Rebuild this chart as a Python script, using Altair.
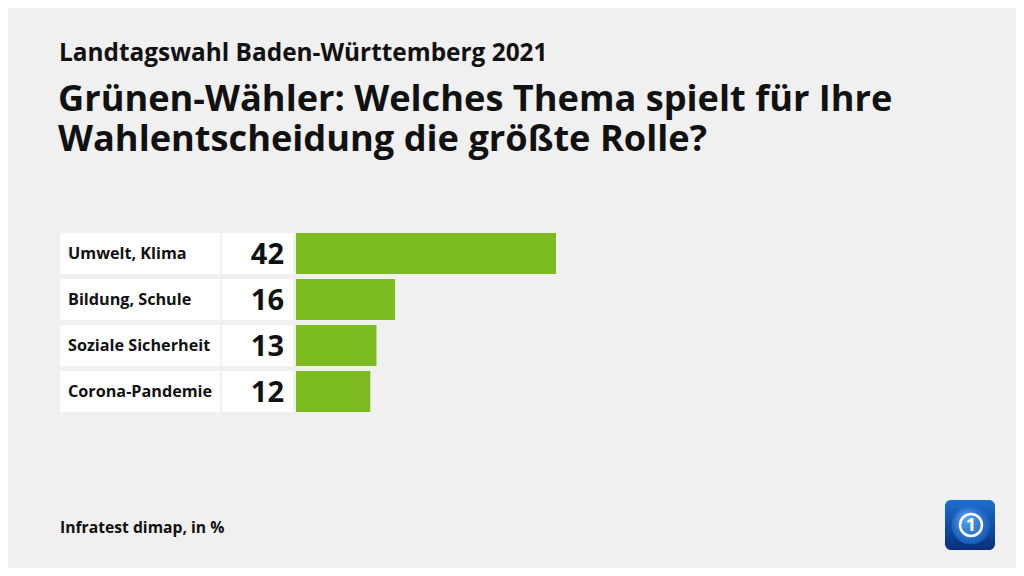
import altair as alt
import pandas as pd

categories = ["Umwelt, Klima", "Bildung, Schule", "Soziale Sicherheit", "Corona-Pandemie"]
values = [42, 16, 13, 12]

kicker = "Landtagswahl Baden-Württemberg 2021"
title_lines = ["Grünen-Wähler: Welches Thema spielt für Ihre",
               "Wahlentscheidung die größte Rolle?"]
source = "Infratest dimap, in %"

FONT = "Open Sans"
GREEN = "#7bbb1f"
INK = "#111111"

df = pd.DataFrame({"cat": categories, "val": values})

yscale = alt.Scale(domain=categories, range=[225, 404], paddingInner=5 / 46, paddingOuter=0)
Y = alt.Y("cat:N", scale=yscale, axis=None)

base = alt.Chart(df)

label_box = base.mark_rect(color="white").encode(x=alt.value(52), x2=alt.value(212), y=Y)
num_box = base.mark_rect(color="white").encode(x=alt.value(214), x2=alt.value(285), y=Y)
bars = base.mark_bar(color=GREEN).encode(
    x=alt.X("val:Q", scale=alt.Scale(domain=[0, 42], range=[288, 548]), axis=None),
    y=Y,
)
labels = base.mark_text(align="left", baseline="middle", font=FONT, fontSize=16.2,
                        fontWeight="bold", color=INK).encode(
    x=alt.value(60), y=Y, text="cat:N")
nums = base.mark_text(align="right", baseline="middle", font=FONT, fontSize=29,
                      fontWeight="bold", color=INK, dy=1).encode(
    x=alt.value(276), y=Y, text="val:Q")

kick = alt.Chart(pd.DataFrame({"t": [kicker]})).mark_text(
    align="left", baseline="alphabetic", font=FONT, fontSize=24.4,
    fontWeight="bold", color=INK).encode(
    x=alt.value(51), y=alt.value(53), text="t:N")

title = alt.Chart(pd.DataFrame({"t": ["\n".join(title_lines)]})).mark_text(
    align="left", baseline="alphabetic", font=FONT, fontSize=36.2, fontWeight="bold",
    color=INK, lineBreak="\n", lineHeight=40).encode(
    x=alt.value(50), y=alt.value(103), text="t:N")

src = alt.Chart(pd.DataFrame({"t": [source]})).mark_text(
    align="left", baseline="alphabetic", font=FONT, fontSize=15.7, fontWeight="bold",
    color=INK).encode(x=alt.value(52), y=alt.value(525), text="t:N")

# logo
logo_df = pd.DataFrame({"a": [0]})
logo_bg = alt.Chart(logo_df).mark_rect(
    cornerRadius=6,
    color=alt.Gradient(gradient="linear", x1=0, y1=0, x2=0, y2=1,
                       stops=[alt.GradientStop(offset=0, color="#1c6fd1"),
                              alt.GradientStop(offset=1, color="#062f7c")])).encode(
    x=alt.value(937), x2=alt.value(987), y=alt.value(492), y2=alt.value(542))
globe = alt.Chart(logo_df).mark_point(
    shape="circle", filled=True, size=1500, opacity=1,
    color=alt.Gradient(gradient="radial", x1=0.35, y1=0.3, x2=0.5, y2=0.5, r1=0, r2=0.6,
                       stops=[alt.GradientStop(offset=0, color="#5aa8f0"),
                              alt.GradientStop(offset=1, color="#0d4fb0")])).encode(
    x=alt.value(963), y=alt.value(517))
ring = alt.Chart(logo_df).mark_point(
    shape="circle", filled=False, size=480, strokeWidth=2.5, color="white", opacity=1).encode(
    x=alt.value(963), y=alt.value(517))
one = alt.Chart(pd.DataFrame({"t": ["1"]})).mark_text(
    font=FONT, fontSize=18, fontWeight="bold", color="white", baseline="middle",
    align="center").encode(x=alt.value(963), y=alt.value(518), text="t:N")

chart = alt.layer(
    label_box, num_box, bars, labels, nums, kick, title, src, logo_bg, globe, ring, one
).properties(
    width=1008, height=560, autosize=alt.AutoSizeParams(type="none"), padding=0,
    background="#f0f0f0",
).configure_view(stroke=None)

chart.save("out.html", embed_options={"renderer": "svg", "actions": False})
